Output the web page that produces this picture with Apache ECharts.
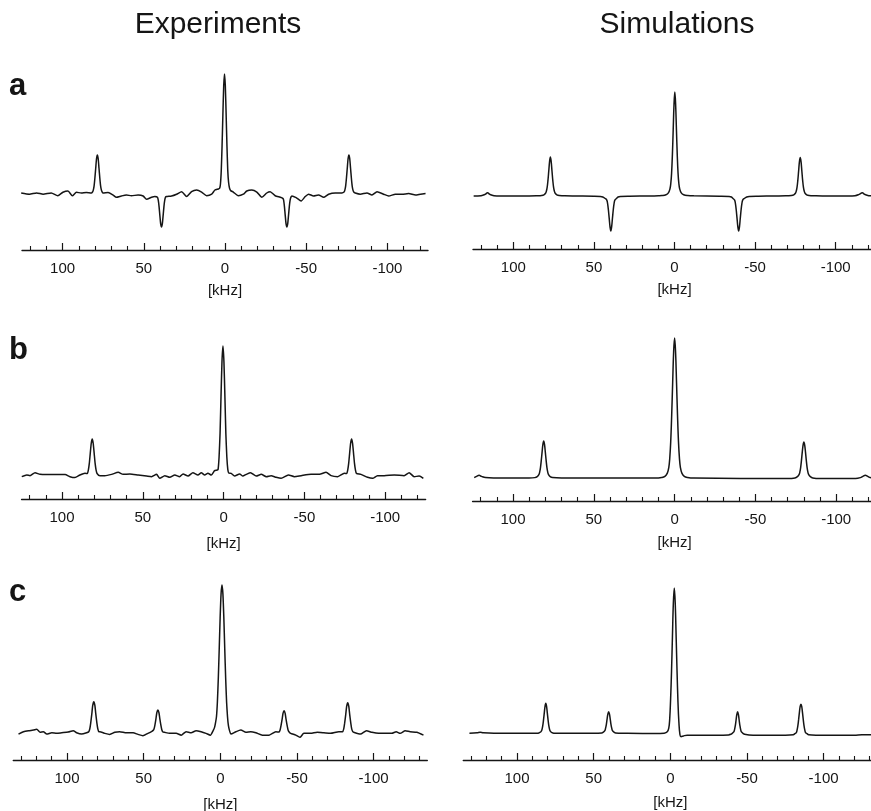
<!DOCTYPE html>
<html>
<head>
    <meta charset="UTF-8">
    <title>Spectra</title>
    <script type="text/javascript" src="https://cdn.jsdelivr.net/npm/echarts@6.0.0/dist/echarts.min.js"></script>
    <style type="text/css">
        html, body { margin: 0; padding: 0; background: #fff; }
        #chart { width: 871px; height: 811px; }
    </style>
</head>
<body>
<div id="chart"></div>
<script type="text/javascript">
    // [kHz, intensity]  (central peak = 100)
    var expA = [[125.5,0],[120.4,-1],[116,0],[112,-1],[107,0],[103,-2.3],[99.8,0.6],[96.7,1.7],[94,-2.3],[91.5,0.6],[88.5,0],[85.4,0.5],[82.3,0],[81.6,0.8],[81.1,2.4],[80.6,6],[80.1,12.8],[79.6,21],[79.1,29],[78.6,32],[78.1,29],[77.6,21],[77.1,12.8],[76.6,6],[76.1,2.4],[75.6,0.8],[75.1,0],[72,0.5],[68.9,-1.7],[66.9,-3.6],[63.8,-2.5],[60.7,-1.7],[57.6,-2.3],[53.5,-1.7],[50.4,-2.5],[48.3,-5.3],[45.2,-3.6],[43.2,-3],[41.6,-3.5],[41.1,-6],[40.6,-11.4],[40.1,-19],[39.6,-26],[39.1,-28.5],[38.6,-26],[38.1,-19],[37.6,-11.4],[37.1,-6],[36.6,-3.5],[36,-3],[32.9,-2.5],[29.8,-1],[26.7,1.1],[23.6,-3],[20.6,1.1],[17.5,2.5],[14.4,0.8],[11.3,-2.3],[8.2,-1],[6.2,2.5],[4.1,3.4],[3.3,4],[2.8,7.6],[2.3,19],[1.8,40],[1.3,66],[0.8,90],[0.3,100],[-0.2,90],[-0.7,66],[-1.2,40],[-1.7,19],[-2.2,9],[-2.8,4],[-3.5,2],[-5.1,0.8],[-8.2,-2.3],[-11.3,-1],[-13.4,1.7],[-16.5,2.5],[-19.6,0.8],[-22.7,-3.6],[-25.7,0],[-27.8,1.1],[-30.9,-2.3],[-34,-3.6],[-35.6,-4.5],[-36.1,-6],[-36.6,-11.4],[-37.1,-19],[-37.6,-26],[-38.1,-28.5],[-38.6,-26],[-39.1,-19],[-39.6,-11.4],[-40.1,-6],[-40.6,-3.5],[-41.2,-2.5],[-43.8,-3.9],[-46.9,-6.7],[-49.4,-3],[-51.4,-1],[-54.5,-2.5],[-57.6,-1.7],[-60.7,-3.6],[-63.8,-1],[-67.9,0],[-72,0],[-73.3,0.8],[-73.8,2.4],[-74.3,6],[-74.8,12.8],[-75.3,21],[-75.8,29],[-76.3,32],[-76.8,29],[-77.3,21],[-77.8,12.8],[-78.3,6],[-78.8,2.4],[-79.3,0.8],[-80.2,0],[-83.3,-1],[-87.4,0],[-90.5,-1.7],[-93.6,1.1],[-97.7,-1],[-100.8,-2.5],[-104.9,-1],[-109,-1],[-113.1,-0.5],[-117.3,-1.7],[-120.4,-1],[-123.5,-0.5]];

    var simA = [[124.6,0],[120,0.3],[117.5,1.5],[116,3],[114.5,1.5],[112,0.3],[108,0],[90,0],[85,0.2],[82.5,0.45],[81,1.1],[80,2.6],[79.5,4.5],[79,8.3],[78.5,15],[78,24],[77.5,33],[77,37.5],[76.5,33],[76,24],[75.5,15],[75,8.3],[74.5,4.5],[74,2.6],[73,1.1],[71.5,0.45],[68,0.1],[60,0],[50,-0.2],[46,-0.5],[44.5,-1],[43,-2.4],[42,-4],[41.5,-7.4],[41,-13.5],[40.5,-21.6],[40,-29.7],[39.5,-33.7],[39,-29.7],[38.5,-21.6],[38,-13.5],[37.5,-7.4],[37,-4],[36,-2.4],[35,-1],[33.5,-0.5],[28,-0.2],[15,0],[10,0.2],[7.8,0.4],[5.3,1.2],[3.8,3],[2.8,7],[2.3,12],[1.8,22],[1.3,40],[0.8,64],[0.3,88],[-0.2,100],[-0.7,88],[-1.2,64],[-1.7,40],[-2.2,22],[-2.7,12],[-3.2,7],[-4.2,3],[-5.7,1.2],[-8.2,0.4],[-12,0.1],[-28,-0.2],[-33.8,-0.5],[-35.3,-1],[-36.3,-2.4],[-37.3,-4],[-37.8,-7.4],[-38.3,-13.5],[-38.8,-21.6],[-39.3,-29.7],[-39.8,-33.7],[-40.3,-29.7],[-40.8,-21.6],[-41.3,-13.5],[-41.8,-7.4],[-42.3,-4],[-43.3,-2.4],[-44.8,-1],[-46.3,-0.5],[-52,-0.2],[-62,0],[-69,0.1],[-72.5,0.45],[-74,1.1],[-75,2.6],[-75.5,4.5],[-76,8.3],[-76.5,15],[-77,24],[-77.5,33],[-78,37],[-78.5,33],[-79,24],[-79.5,15],[-80,8.3],[-80.5,4.5],[-81,2.6],[-82,1.1],[-83.5,0.45],[-87,0.2],[-95,0],[-108,0],[-112,0.3],[-114.5,1.5],[-116.5,3],[-118,1.5],[-120.5,0.3],[-125,0]];

    var expB = [[124.9,-1.3],[121.8,0],[119.8,-0.5],[116.7,1.8],[113.6,0.5],[109.4,0.3],[104.3,0.3],[98.1,0.3],[95.1,-1.3],[92,-2],[88.9,0],[85.8,1.3],[84.3,1.2],[83.7,3.8],[83.1,9],[82.5,17],[81.9,24.6],[81.3,28],[80.7,24.6],[80.1,17],[79.5,9],[78.9,3.8],[78.3,1.2],[76.5,-0.5],[73.5,-0.5],[69.3,0.5],[65.2,2.1],[62.2,0.5],[58,0.8],[52.9,0],[47.7,-0.8],[44.6,-1.3],[41.5,0.5],[39.5,-2.6],[36.4,-0.5],[33.3,-1.8],[30.2,0],[27.2,-1.3],[25.1,0.8],[22,-0.8],[19,1.8],[15.9,0],[13.8,1.8],[11.7,0],[9.7,1.3],[7.6,0],[5.6,3.4],[3.9,3.9],[3.4,4.4],[2.8,14],[2.2,32],[1.6,61],[1,88],[0.4,100],[-0.2,88],[-0.8,61],[-1.4,32],[-2,14],[-2.6,4.4],[-3.2,1.5],[-4.7,1.3],[-6.8,-0.8],[-9.9,0.8],[-11.9,-0.8],[-14,0.5],[-16.7,1.8],[-20.2,-0.8],[-23.3,0.5],[-26.4,-1.3],[-29.4,-0.5],[-32.5,-1.8],[-35.6,-2.6],[-40.1,0],[-43.8,-1.3],[-48,-0.5],[-54.1,0.5],[-59.3,0.5],[-63.4,2.1],[-66.5,-0.5],[-70.6,-1.3],[-74.7,1.3],[-76.2,1.2],[-76.8,3.8],[-77.4,9],[-78,17],[-78.6,24.6],[-79.2,28],[-79.8,24.6],[-80.4,17],[-81,9],[-81.6,3.8],[-82.2,1.2],[-85,0.5],[-89.1,-1.8],[-92.2,-2.6],[-95.2,-0.5],[-99.4,-0.5],[-105.6,0],[-111.7,-0.5],[-114.8,1.8],[-117.9,-1.3],[-121,-0.8],[-123.6,-2.6]];

    var simB = [[124,0.3],[122.5,1.2],[121,2],[119.5,1.2],[117,0.3],[112,0],[90,0],[86.5,0.3],[85,1],[84,2.4],[83.5,4.2],[83,7.5],[82.5,12.6],[82,18.5],[81.5,24],[81,26.4],[80.5,24],[80,18.5],[79.5,12.6],[79,7.5],[78.5,4.2],[78,2.4],[77,1],[75.5,0.3],[70,0],[12,0],[8,0.4],[6,1.2],[4.5,3.5],[3.6,7.5],[3,14],[2.4,26],[1.8,45],[1.2,68],[0.6,90],[0,100],[-0.6,90],[-1.2,68],[-1.8,45],[-2.4,26],[-3,14],[-3.6,7.5],[-4.5,3.5],[-6,1.2],[-8,0.4],[-12,0],[-70,-0.3],[-74.5,0.1],[-76,1],[-77,2.4],[-77.5,4.2],[-78,7.5],[-78.5,12.6],[-79,18.5],[-79.5,23.5],[-80,25.7],[-80.5,23.5],[-81,18.5],[-81.5,12.6],[-82,7.5],[-82.5,4.2],[-83,2.4],[-84,1],[-85.5,0.1],[-90,-0.3],[-112,-0.3],[-115,0.3],[-116.5,1.2],[-118,2],[-119.5,1.2],[-121,0.3],[-125,0]];

    var expC = [[131.6,-0.7],[128.4,0.9],[125.1,1.6],[121.9,2],[119.7,2.5],[117.5,0.5],[115.4,0.9],[113.2,-0.7],[109.9,0.2],[106.7,-0.2],[103.4,0.2],[99.2,0.7],[95.9,1.6],[93.7,0.2],[90.5,-0.7],[87.2,0.2],[85.8,0.9],[85.1,2.9],[84.5,6.9],[83.8,12.9],[83.2,18.7],[82.5,21.2],[81.8,18.7],[81.2,12.9],[80.5,6.9],[79.9,2.9],[79.2,0.9],[78.6,0.9],[75.3,-0.2],[72.1,-0.9],[68.8,0.5],[65.6,0.9],[61.2,0.2],[56.9,0.2],[53.7,-0.9],[50.5,-1.8],[47.2,-0.2],[44.6,1.2],[43.8,1.8],[43.3,2.6],[42.7,5],[42,9.4],[41.4,13.7],[40.7,15.5],[40,13.7],[39.4,9.4],[38.7,5],[38.1,2.1],[37.4,0.7],[36.4,0.5],[33.1,-0.2],[28.8,-0.2],[25.5,-1.4],[22.3,0.9],[19,0.2],[15.8,1.6],[12.5,0.9],[9.3,-0.2],[6.5,-1.4],[4.5,2],[3.7,4],[3.1,7],[2.5,11],[1.9,21],[1.3,37],[0.7,57],[0.1,78],[-0.5,94],[-1.1,100],[-1.7,94],[-2.3,78],[-2.9,57],[-3.5,37],[-4.1,21],[-4.7,11],[-5.3,5],[-6.1,1.3],[-6.9,-0.7],[-10.2,0.9],[-13.4,2],[-16.7,0.5],[-19.9,0.9],[-23.2,0.2],[-27.5,-1.4],[-31.8,-1.4],[-36.2,0.9],[-38.3,0.7],[-39,2.1],[-39.6,5],[-40.3,9.2],[-40.9,13.3],[-41.6,15.1],[-42.3,13.3],[-42.9,9.2],[-43.6,5],[-44.2,2.1],[-44.9,0.7],[-45.9,-0.2],[-49.2,-1.4],[-51.9,-2.9],[-54.5,-0.2],[-58.9,-0.2],[-63.2,0.5],[-67.5,0.2],[-71.9,-0.2],[-77.3,0.9],[-79.8,0.9],[-80.5,2.8],[-81.1,6.7],[-81.8,12.5],[-82.4,18],[-83.1,20.5],[-83.8,18],[-84.4,12.5],[-85.1,6.7],[-85.7,2.8],[-86.4,0.9],[-87,0.5],[-91.4,-0.7],[-95.3,1.6],[-98.9,0.5],[-103.2,-0.2],[-107.6,-0.2],[-111.9,-0.2],[-114.7,0.9],[-117.3,-0.2],[-120.6,1.6],[-123.8,0.9],[-128.1,0.5],[-132.5,-1.4]];

    var simC = [[131,0.5],[126,0.8],[124,1.2],[122,0.8],[115,0.5],[90,0.5],[86.2,0.6],[85.2,1],[84.2,1.8],[83.7,3],[83.2,5.5],[82.7,9.5],[82.2,14.3],[81.7,19],[81.2,21],[80.7,19],[80.2,14.3],[79.7,9.5],[79.2,5.5],[78.7,3],[78.2,1.8],[77.2,1],[76,0.6],[70,0.5],[50,0.5],[44.7,0.7],[43.7,1.3],[42.7,2.3],[42.2,4],[41.7,6.6],[41.2,10.4],[40.7,13.8],[40.2,15.3],[39.7,13.8],[39.2,10.4],[38.7,6.6],[38.2,4],[37.7,2.3],[36.7,1.3],[35.7,0.7],[30,0.5],[10,0.3],[4,0.6],[2,1.5],[1,4],[0.4,10],[-0.2,24],[-0.8,43],[-1.4,67],[-2,90],[-2.6,100],[-3.2,90],[-3.8,67],[-4.4,43],[-5,22],[-5.6,8],[-6.3,-0.5],[-7,-1.8],[-8.5,-1.3],[-11,-0.8],[-20,-0.8],[-30,-0.8],[-38,-0.6],[-39.4,-0.2],[-40.4,0.5],[-41.4,1.4],[-41.9,3],[-42.4,5.8],[-42.9,9.6],[-43.4,13.4],[-43.9,15.3],[-44.4,13.4],[-44.9,9.6],[-45.4,5.8],[-45.9,3],[-46.4,1.4],[-47.4,0.5],[-48.4,-0.2],[-54,-0.8],[-75,-0.8],[-80.2,-0.5],[-81.2,0.2],[-82.2,1],[-82.7,2.8],[-83.2,5.7],[-83.7,10],[-84.2,14.8],[-84.7,19],[-85.2,20.3],[-85.7,19],[-86.2,14.8],[-86.7,10],[-87.2,5.7],[-87.7,2.8],[-88.2,1],[-89.2,0.2],[-90.2,-0.5],[-95,-0.8],[-120,-0.8],[-125,-0.5],[-135,-0.5]];

    // tick labels (kHz)
    var majorTicks = [100, 50, 0, -50, -100];
    var minorTicksAB = [120, 110, 90, 80, 70, 60, 40, 30, 20, 10, -10, -20, -30, -40, -60, -70, -80, -90, -110, -120];
    var minorTicksC = [130, 120, 110, 90, 80, 70, 60, 40, 30, 20, 10, -10, -20, -30, -40, -60, -70, -80, -90, -110, -120, -130];

    var ink = '#151515';
    var fontFamily = '"Liberation Sans", Arial, Helvetica, sans-serif';

    var panels = [
        {data: expA, left: 22, width: 406, top: 74, height: 176, ymin: -47.9, range: 125, minor: minorTicksAB, nameGap: 33, smooth: 0.2},
        {data: simA, left: 473, width: 403, top: 92, height: 157, ymin: -51, range: 125, minor: minorTicksAB, nameGap: 33, smooth: 0.4},
        {data: expB, left: 21.6, width: 404, top: 346, height: 153, ymin: -18.6, range: 125, minor: minorTicksAB, nameGap: 37, smooth: 0.2},
        {data: simB, left: 472.6, width: 404, top: 338, height: 163, ymin: -16.4, range: 125, minor: minorTicksAB, nameGap: 34, smooth: 0.4},
        {data: expC, left: 13.3, width: 414, top: 585, height: 175, ymin: -18.2, range: 135, minor: minorTicksC, nameGap: 37, smooth: 0.2},
        {data: simC, left: 463.3, width: 414, top: 588, height: 172, ymin: -17.8, range: 135, minor: minorTicksC, nameGap: 35, smooth: 0.4}
    ];

    var grids = [], xAxes = [], yAxes = [], series = [];
    for (var i = 0; i < panels.length; i++) {
        var p = panels[i];
        grids.push({left: p.left, width: p.width, top: p.top, height: p.height, outerBoundsMode: 'none', containLabel: false});
        // main axis: line, long ticks, labels, unit
        xAxes.push({
            type: 'value', gridIndex: i, position: 'bottom', inverse: true,
            min: -p.range, max: p.range,
            name: '[kHz]', nameLocation: 'middle', nameGap: p.nameGap,
            nameTextStyle: {color: ink, fontSize: 15, fontFamily: fontFamily},
            axisLine: {show: true, onZero: false, lineStyle: {color: ink, width: 1.4}},
            axisTick: {show: true, inside: true, length: 7, customValues: majorTicks, lineStyle: {color: ink, width: 1.2}},
            axisLabel: {show: true, customValues: majorTicks, margin: 11, color: ink, fontSize: 15, fontFamily: fontFamily},
            splitLine: {show: false}
        });
        // second axis on same grid, only short ticks
        xAxes.push({
            type: 'value', gridIndex: i, position: 'bottom', inverse: true,
            min: -p.range, max: p.range,
            axisLine: {show: false, onZero: false},
            axisTick: {show: true, inside: true, length: 4, customValues: p.minor, lineStyle: {color: ink, width: 1.1}},
            axisLabel: {show: false},
            splitLine: {show: false}
        });
        yAxes.push({type: 'value', gridIndex: i, min: p.ymin, max: 100, show: false, splitLine: {show: false}});
        series.push({
            type: 'line', xAxisIndex: 2 * i, yAxisIndex: i,
            data: p.data, showSymbol: false, symbol: 'none',
            smooth: p.smooth, clip: false,
            lineStyle: {color: ink, width: 1.5}
        });
    }

    function label(txt, x, y, size, weight, align) {
        return {
            type: 'text', x: x, y: y,
            style: {
                text: txt, fill: ink, font: weight + ' ' + size + 'px ' + fontFamily,
                align: align, textAlign: align, verticalAlign: 'middle', textVerticalAlign: 'middle'
            }
        };
    }

    var chart = echarts.init(document.getElementById('chart'));
    chart.setOption({
        animation: false,
        backgroundColor: '#fff',
        grid: grids,
        xAxis: xAxes,
        yAxis: yAxes,
        series: series,
        graphic: [
            label('Experiments', 218, 25, 30, 'normal', 'center'),
            label('Simulations', 677, 25, 30, 'normal', 'center'),
            label('a', 9, 86, 31, 'bold', 'left'),
            label('b', 9, 350, 31, 'bold', 'left'),
            label('c', 9, 592, 31, 'bold', 'left')
        ]
    });
</script>
</body>
</html>
